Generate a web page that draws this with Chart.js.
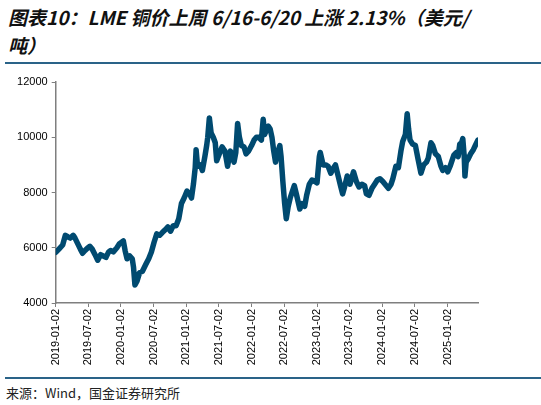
<!DOCTYPE html>
<html>
<head>
<meta charset="utf-8">
<script src="https://cdn.jsdelivr.net/npm/chart.js@4.4.1/dist/chart.umd.min.js"></script>
<style>
  body { margin: 0; width: 541px; height: 405px; background: #fff; position: relative; overflow: hidden; }
  .title { position: absolute; left: 8px; font: italic bold 19px "Noto Sans CJK SC", sans-serif; color: #111; white-space: nowrap; }
  .rule { position: absolute; left: 5px; width: 536px; height: 2px; background: #2a6388; }
  .source { position: absolute; left: 6px; top: 383px; font: 13px "Noto Sans CJK SC", sans-serif; color: #222; }
  #wrap { position: absolute; left: 0; top: 70px; width: 541px; height: 305px; }
</style>
</head>
<body>
<div class="title" style="top:3px">图表10：LME 铜价上周 6/16-6/20 上涨 2.13%（美元/</div>
<div class="title" style="top:31px">吨）</div>
<div class="rule" style="top:62px"></div>
<div id="wrap"><canvas id="copperChart"></canvas></div>
<div class="rule" style="top:377px"></div>
<div class="source">来源：Wind，国金证券研究所</div>
<script>
const dates = [
  '2019-01-02','2019-01-20','2019-02-10','2019-02-25','2019-03-10','2019-03-25','2019-04-10','2019-04-20',
  '2019-05-05','2019-05-20','2019-06-01','2019-06-15','2019-07-01','2019-07-12','2019-07-25','2019-08-10',
  '2019-08-25','2019-09-10','2019-09-25','2019-10-10','2019-10-25','2019-11-05','2019-11-20','2019-12-10',
  '2019-12-25','2020-01-15','2020-01-25','2020-02-05','2020-02-20','2020-03-05','2020-03-12','2020-03-20',
  '2020-04-01','2020-04-15','2020-05-01','2020-05-20','2020-06-05','2020-06-20','2020-07-05','2020-07-20',
  '2020-08-05','2020-08-20','2020-09-05','2020-09-20','2020-10-05','2020-10-20','2020-11-05','2020-11-20',
  '2020-12-05','2020-12-20','2021-01-05','2021-01-20','2021-01-30','2021-02-10','2021-02-20','2021-02-25',
  '2021-03-05','2021-03-20','2021-04-01','2021-04-15','2021-04-25','2021-05-01','2021-05-10','2021-05-20',
  '2021-06-01','2021-06-12','2021-06-20','2021-07-05','2021-07-20','2021-08-05','2021-08-20','2021-09-01',
  '2021-09-05','2021-09-15','2021-09-25','2021-10-05','2021-10-15','2021-10-25','2021-11-05','2021-11-20',
  '2021-12-01','2021-12-15','2022-01-01','2022-01-15','2022-01-28','2022-02-10','2022-02-25','2022-03-07',
  '2022-03-15','2022-03-28','2022-04-05','2022-04-15','2022-04-25','2022-05-05','2022-05-15','2022-05-25',
  '2022-06-08','2022-06-15','2022-06-25','2022-07-05','2022-07-14','2022-07-25','2022-08-05','2022-08-15',
  '2022-08-28','2022-09-10','2022-09-28','2022-10-10','2022-10-25','2022-11-05','2022-11-20','2022-12-05',
  '2022-12-20','2023-01-02','2023-01-15','2023-01-20','2023-02-05','2023-02-20','2023-03-05','2023-03-20',
  '2023-04-05','2023-04-15','2023-04-30','2023-05-15','2023-05-25','2023-06-05','2023-06-20','2023-07-05',
  '2023-07-25','2023-08-10','2023-08-25','2023-09-10','2023-09-25','2023-10-05','2023-10-20','2023-11-05',
  '2023-11-20','2023-12-05','2023-12-20','2024-01-05','2024-02-05','2024-02-20','2024-03-01','2024-03-18',
  '2024-04-01','2024-04-15','2024-04-25','2024-05-10','2024-05-20','2024-05-28','2024-06-05','2024-06-20',
  '2024-07-05','2024-07-20','2024-08-05','2024-08-20','2024-09-05','2024-09-15','2024-09-30','2024-10-10',
  '2024-10-25','2024-11-10','2024-11-25','2024-12-05','2024-12-20','2025-01-02','2025-01-15','2025-01-28',
  '2025-02-05','2025-02-12','2025-02-20','2025-03-01','2025-03-10','2025-03-20','2025-03-27','2025-04-04',
  '2025-04-08','2025-04-15','2025-04-25','2025-05-10','2025-05-25','2025-06-05','2025-06-20'
];

const prices = [
  5830, 5950, 6100, 6450, 6400, 6350, 6450, 6350,
  6150, 5950, 5800, 5900, 6000, 6050, 5950, 5750,
  5550, 5750, 5700, 5650, 5850, 5900, 5850, 6000,
  6150, 6250, 5900, 5600, 5700, 5600, 5300, 4650,
  4800, 5100, 5150, 5400, 5600, 5850, 6200, 6500,
  6450, 6550, 6650, 6750, 6600, 6800, 6800, 7050,
  7600, 7800, 8050, 7950, 7800, 8300, 8900, 9550,
  8950, 9000, 8800, 9300, 9700, 10000, 10700, 10150,
  10000, 9800, 9150, 9400, 9650, 9500, 8950, 9400,
  9500, 9300, 9100, 9450, 10500, 10000, 9700, 9650,
  9400, 9500, 9700, 9900, 10000, 10000, 9900, 10650,
  10100, 10300, 10400, 10300, 10000, 9500, 9100, 9400,
  9700, 9300, 8400, 7600, 7050, 7500, 7800, 8000,
  8250, 7900, 7400, 7600, 7500, 7900, 8300, 8450,
  8400, 8350, 9300, 9450, 9000, 9000, 8950, 8700,
  8900, 9000, 8600, 8200, 7950, 8200, 8600, 8300,
  8750, 8400, 8200, 8300, 8250, 7950, 7900, 8150,
  8300, 8450, 8500, 8400, 8150, 8300, 8500, 8950,
  8900, 9500, 9850, 10100, 10850, 10300, 9900, 9750,
  9700, 9200, 8700, 9000, 9100, 9250, 9800, 9700,
  9400, 9300, 8950, 8800, 8900, 8750, 8950, 9200,
  9350, 9400, 9450, 9300, 9750, 9800, 9950, 9300,
  8600, 9100, 9200, 9400, 9550, 9700, 9900
];

const tickLabels = [
  '2019-01-02','2019-07-02','2020-01-02','2020-07-02','2021-01-02','2021-07-02','2022-01-02',
  '2022-07-02','2023-01-02','2023-07-02','2024-01-02','2024-07-02','2025-01-02'
];

const yTicks = [4000, 6000, 8000, 10000, 12000];

// days since first date, used as x position
function dayNum(s) {
  const p = s.split('-').map(Number);
  return (Date.UTC(p[0], p[1] - 1, p[2]) - Date.UTC(2019, 0, 2)) / 86400000;
}

const points = dates.map((d, i) => ({ x: dayNum(d), y: prices[i] }));
const axisColor = '#7f7f7f';
const tickFont = { family: 'Liberation Sans, Arial, sans-serif', size: 11 };

new Chart(document.getElementById('copperChart'), {
  type: 'line',
  data: {
    datasets: [{
      data: points,
      borderColor: '#004a70',
      borderWidth: 5.5,
      pointRadius: 0,
      tension: 0,
      borderJoinStyle: 'round',
      borderCapStyle: 'round',
      fill: false,
    }],
  },
  options: {
    responsive: true,
    maintainAspectRatio: false,
    animation: false,
    layout: { padding: { top: 12, right: 63, left: 0, bottom: 0 } },
    plugins: { legend: { display: false }, tooltip: { enabled: false } },
    scales: {
      x: {
        type: 'linear',
        min: 0,
        max: dayNum(dates[dates.length - 1]),
        afterBuildTicks: (scale) => {
          scale.ticks = tickLabels.map(t => ({ value: dayNum(t) }));
        },
        afterFit: (scale) => { scale.height = 72; },
        border: { color: axisColor, width: 1.5 },
        grid: { drawOnChartArea: false, drawTicks: true, tickLength: 4, color: axisColor },
        ticks: {
          autoSkip: false,
          minRotation: 90,
          maxRotation: 90,
          color: '#000',
          font: tickFont,
          padding: 2,
          callback: (value, index) => tickLabels[index],
        },
      },
      y: {
        min: 4000,
        max: 12000,
        afterBuildTicks: (scale) => {
          scale.ticks = yTicks.map(v => ({ value: v }));
        },
        afterFit: (scale) => { scale.width = 55.7; },
        border: { color: axisColor, width: 1.5 },
        grid: { drawOnChartArea: false, drawTicks: true, tickLength: 4, color: axisColor },
        ticks: { color: '#000', font: tickFont, padding: 4, callback: (value) => String(value) },
      },
    },
  },
});
</script>
</body>
</html>
